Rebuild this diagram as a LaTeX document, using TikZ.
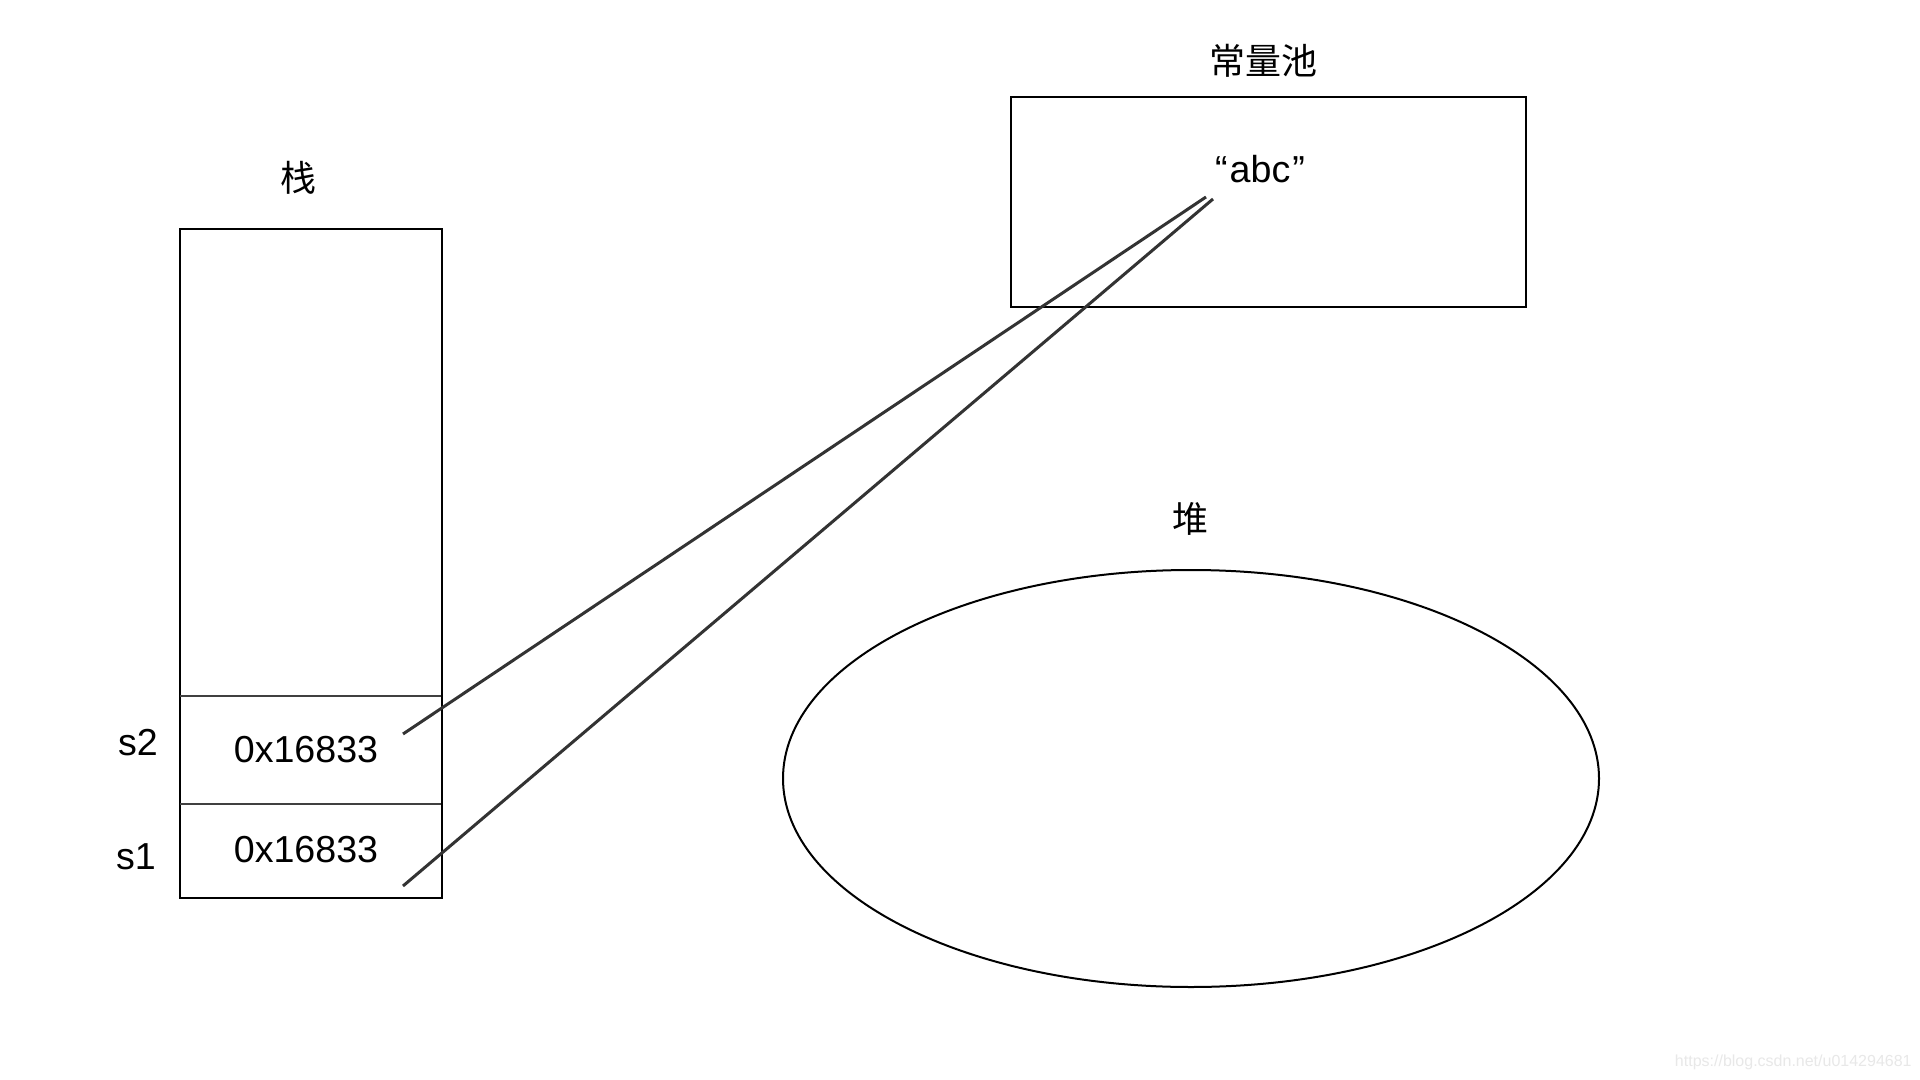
\documentclass[tikz,border=0pt]{standalone}
\usepackage{fontspec}
\setmainfont{Liberation Sans}
\newfontfamily\cjk{Noto Sans CJK SC}
\usetikzlibrary{shapes.geometric}
\tikzset{
  box/.style={draw=black, line width=1pt, rectangle, inner sep=0pt},
  cellline/.style={draw=black!75, line width=0.75pt},
  link/.style={draw=black!80, line width=1.5pt},
  latin/.style={inner sep=0pt, font=\fontsize{18.8}{22}\selectfont},
  hanzi/.style={inner sep=0pt, font=\cjk\fontsize{18}{22}\selectfont},
  wmark/.style={inner sep=0pt, text=black!9, font=\fontsize{8}{10}\selectfont}
}
\begin{document}
\begin{tikzpicture}[x=0.5pt, y=-0.5pt]
\useasboundingbox (0,0) rectangle (1920,1080);
\fill[white] (0,0) rectangle (1920,1080);
% stack
\node[box, minimum width=131pt, minimum height=334.5pt] (stack) at (311,563.5) {};
\coordinate (c2l) at (180,696);
\coordinate (c2r) at (441,696);
\coordinate (c1l) at (180,804);
\coordinate (c1r) at (441,804);
\draw[cellline] (c2l) -- (c2r);
\draw[cellline] (c1l) -- (c1r);
\node[hanzi] (stacklbl) at (298,178) {栈};
\node[latin] (v2) at (306,750) {0x16833};
\node[latin] (v1) at (306,850) {0x16833};
\node[latin] (s2) at (138,743) {s2};
\node[latin] (s1) at (136,857) {s1};
% constant pool
\node[box, minimum width=257.5pt, minimum height=105pt] (pool) at (1268.5,202) {};
\node[hanzi] (poollbl) at (1263,61) {常量池};
\node[latin] (abc) at (1260,169) {“\kern1pt abc\kern1pt”};
% heap
\node[draw=black, line width=1pt, ellipse, inner sep=0pt, minimum width=408pt, minimum height=208.5pt] (heap) at (1191,778.5) {};
\node[hanzi] (heaplbl) at (1190,519) {堆};
% connectors
\coordinate (p2) at (403,734);
\coordinate (p1) at (403,886);
\coordinate (e2) at (1206,197);
\coordinate (e1) at (1213,199);
\draw[link] (p2) -- (e2);
\draw[link] (p1) -- (e1);
% watermark
\node[wmark, anchor=east] (wm) at (1912,1062) {https://blog.csdn.net/u014294681};
\end{tikzpicture}
\end{document}
